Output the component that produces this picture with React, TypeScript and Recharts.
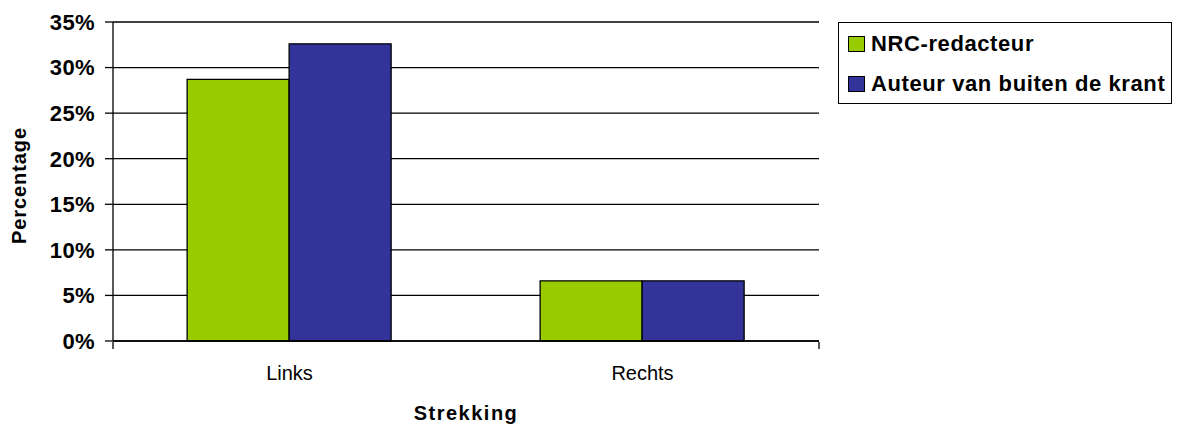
import { Bar, BarChart, CartesianGrid, Legend, XAxis, YAxis } from 'recharts';

const categories = ['Links', 'Rechts'];
const nrcRedacteur = [28.7, 6.6];
const auteurBuiten = [32.6, 6.6];
const yTicks = [0, 5, 10, 15, 20, 25, 30, 35];
const edgeTicks = [0, 1, 2];

const series = [
  { key: 'nrc', name: 'NRC-redacteur', color: '#99CC00' },
  { key: 'auteur', name: 'Auteur van buiten de krant', color: '#333399' },
];

const data = categories.map((c, i) => ({
  name: c,
  nrc: nrcRedacteur[i],
  auteur: auteurBuiten[i],
}));

const FONT = '"Liberation Sans", Arial, sans-serif';

function LegendBox() {
  return (
    <div
      style={{
        width: 332,
        height: 80,
        border: '1px solid #000',
        background: '#fff',
        fontFamily: FONT,
        fontWeight: 'bold',
        fontSize: 22,
        letterSpacing: 0.6,
        color: '#000',
        position: 'relative',
      }}
    >
      {series.map((s, i) => (
        <div
          key={s.key}
          style={{
            position: 'absolute',
            left: 9,
            top: 8 + i * 40,
            display: 'flex',
            alignItems: 'center',
            height: 26,
            whiteSpace: 'nowrap',
          }}
        >
          <span
            style={{
              display: 'inline-block',
              width: 15,
              height: 14,
              background: s.color,
              border: '1px solid #000',
              marginRight: 6,
            }}
          />
          {s.name}
        </div>
      ))}
    </div>
  );
}

export default function App() {
  return (
    <div style={{ position: 'absolute', left: 0, top: 0, width: 1178, height: 425, background: '#fff' }}>
      <BarChart
        width={1178}
        height={425}
        data={data}
        margin={{ top: 22, right: 359, bottom: 82, left: 0 }}
        barGap={0}
        barCategoryGap="21%"
      >
        <CartesianGrid vertical={false} stroke="#000" strokeWidth={1.3} />
        <XAxis
          dataKey="name"
          height={1}
          axisLine={{ stroke: '#000', strokeWidth: 1.3 }}
          tickLine={false}
          tickSize={0}
          tickMargin={25}
          tick={{ fill: '#000', fontSize: 20, fontFamily: FONT }}
          label={{
            value: 'Strekking',
            position: 'bottom',
            offset: 64,
            style: { fill: '#000', fontSize: 20, fontWeight: 'bold', fontFamily: FONT, letterSpacing: 1.5 },
          }}
        />
        <XAxis
          xAxisId="edge"
          type="number"
          domain={[0, 2]}
          ticks={edgeTicks}
          interval={0}
          height={1}
          axisLine={false}
          tick={() => <g />}
          tickSize={7}
          tickLine={{ stroke: '#000', strokeWidth: 1.3 }}
        />
        <YAxis
          width={113}
          domain={[0, 35]}
          ticks={yTicks}
          interval={0}
          tickFormatter={(v: number) => `${v}%`}
          axisLine={{ stroke: '#000', strokeWidth: 1.3 }}
          tickLine={{ stroke: '#000', strokeWidth: 1.3 }}
          tickSize={8}
          tickMargin={10}
          tick={{ fill: '#000', fontSize: 22, fontWeight: 'bold', fontFamily: FONT, letterSpacing: 0.4 }}
          label={{
            content: ({ viewBox }: any) => {
              const cy = viewBox.y + viewBox.height / 2 + 4;
              return (
                <text
                  x={26}
                  y={cy}
                  transform={`rotate(-90 26 ${cy})`}
                  textAnchor="middle"
                  fill="#000"
                  fontSize={20}
                  fontWeight="bold"
                  fontFamily={FONT}
                  letterSpacing={0.9}
                >
                  Percentage
                </text>
              );
            },
          }}
        />
        <Legend
          layout="horizontal"
          align="center"
          verticalAlign="middle"
          wrapperStyle={{ left: 838, top: 22, width: 334, height: 82 }}
          content={() => <LegendBox />}
        />
        {series.map((s) => (
          <Bar
            key={s.key}
            dataKey={s.key}
            name={s.name}
            fill={s.color}
            stroke="#000"
            strokeWidth={1.3}
            isAnimationActive={false}
          />
        ))}
      </BarChart>
    </div>
  );
}
